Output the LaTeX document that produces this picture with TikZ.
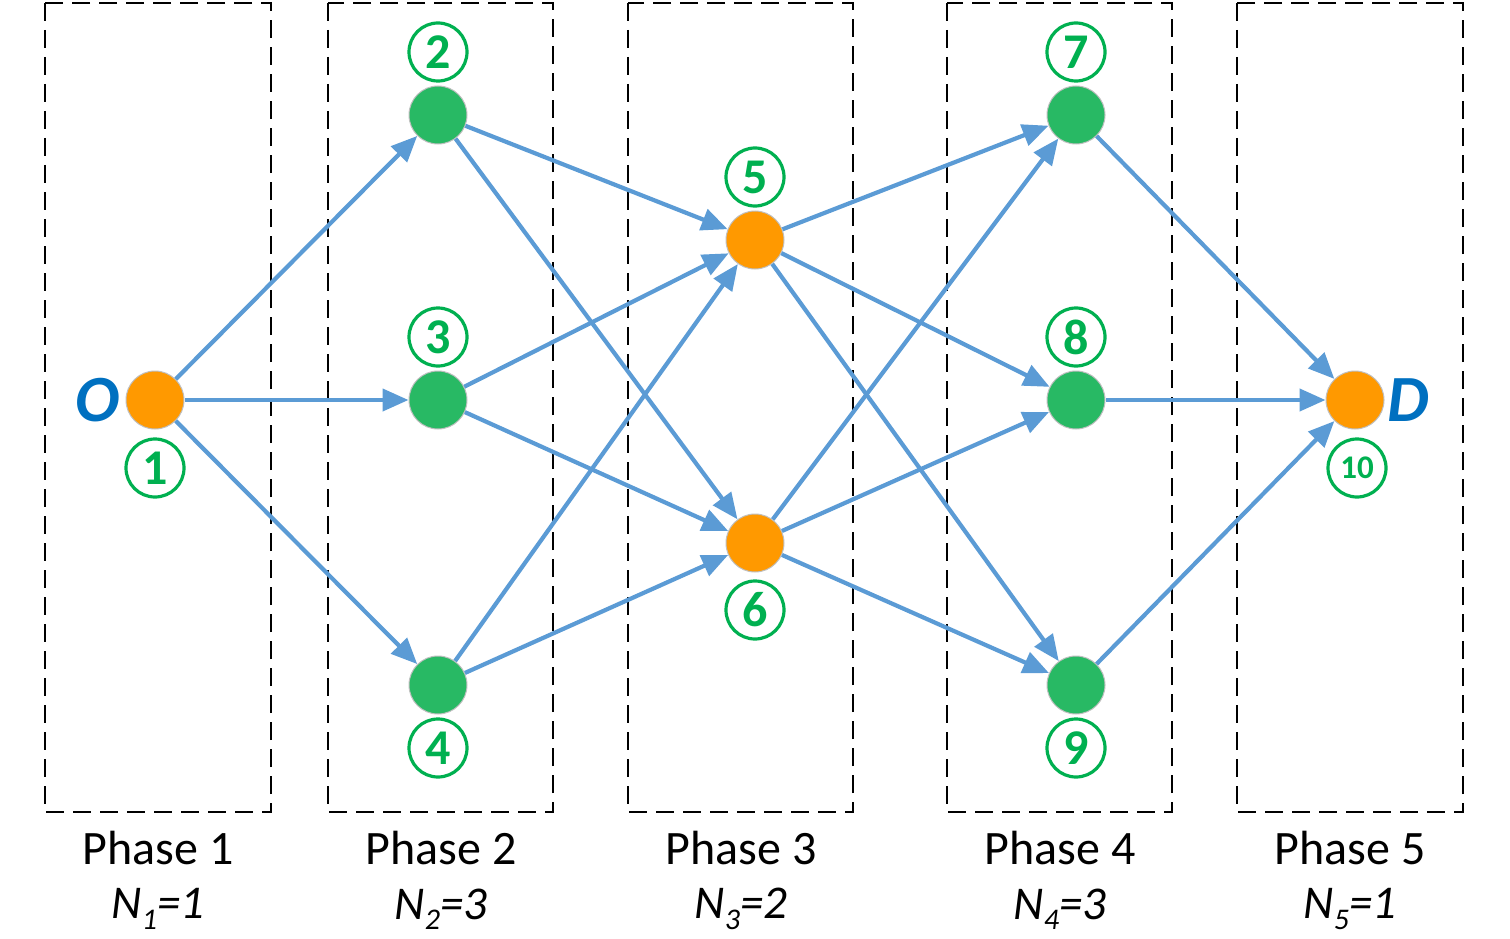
\documentclass[tikz,border=0pt]{standalone}
\usepackage{fontspec}
\setmainfont{Carlito}
\usetikzlibrary{arrows.meta}
\definecolor{edgeblue}{RGB}{91,155,213}
\definecolor{nodegreen}{RGB}{40,185,100}
\definecolor{nodeorange}{RGB}{255,153,0}
\definecolor{labgreen}{RGB}{0,176,80}
\definecolor{odblue}{RGB}{0,112,192}
\tikzset{
  gnode/.style={circle, fill=nodegreen, draw=black!25, line width=1pt, minimum size=58pt, inner sep=0pt},
  onode/.style={circle, fill=nodeorange, draw=black!25, line width=1pt, minimum size=58pt, inner sep=0pt},
  numlab/.style={circle, draw=labgreen, line width=3.2pt, minimum size=58pt, inner sep=0pt, text=labgreen, font=\fontsize{50}{56}\selectfont\bfseries},
  edge/.style={draw=edgeblue, line width=4.2pt, -{Triangle[length=26pt,width=22pt]}},
  phasebox/.style={draw=black, line width=2.8pt, dash pattern=on 18pt off 9pt},
  phaselab/.style={font=\fontsize{48}{56}\selectfont},
  nlab/.style={font=\fontsize{47}{54}\selectfont\itshape},
  odlab/.style={text=odblue, font=\fontsize{66}{72}\selectfont\bfseries\itshape}
}
\begin{document}
\begin{tikzpicture}[x=1pt,y=-1pt]
\useasboundingbox (0,0) rectangle (1510,939);
% phase boxes
\draw[phasebox] (45,3) rectangle (271,812);
\draw[phasebox] (328,3) rectangle (553,812);
\draw[phasebox] (628,3) rectangle (853,812);
\draw[phasebox] (947,3) rectangle (1172,812);
\draw[phasebox] (1237,3) rectangle (1463,812);
% phase labels
\node[phaselab] (p1) at (158,848) {Phase 1};
\node[phaselab] (p2) at (441,848) {Phase 2};
\node[phaselab] (p3) at (741,848) {Phase 3};
\node[phaselab] (p4) at (1060,848) {Phase 4};
\node[phaselab] (p5) at (1350,848) {Phase 5};
\node[nlab] (n1) at (158,909) {N\raisebox{-0.22em}{\fontsize{30}{34}\selectfont 1}=1};
\node[nlab] (n2) at (441,909) {N\raisebox{-0.22em}{\fontsize{30}{34}\selectfont 2}=3};
\node[nlab] (n3) at (741,909) {N\raisebox{-0.22em}{\fontsize{30}{34}\selectfont 3}=2};
\node[nlab] (n4) at (1060,909) {N\raisebox{-0.22em}{\fontsize{30}{34}\selectfont 4}=3};
\node[nlab] (n5) at (1350,909) {N\raisebox{-0.22em}{\fontsize{30}{34}\selectfont 5}=1};
% nodes
\node[onode] (v1) at (155,400) {};
\node[gnode] (v2) at (438,115) {};
\node[gnode] (v3) at (438,400) {};
\node[gnode] (v4) at (438,685) {};
\node[onode] (v5) at (755,240) {};
\node[onode] (v6) at (755,543) {};
\node[gnode] (v7) at (1076,115) {};
\node[gnode] (v8) at (1076,400) {};
\node[gnode] (v9) at (1076,685) {};
\node[onode] (v10) at (1355,400) {};
% number labels
\node[numlab] (l1) at (155,468) {1};
\node[numlab] (l2) at (438,52) {2};
\node[numlab] (l3) at (438,337) {3};
\node[numlab] (l4) at (438,748) {4};
\node[numlab] (l5) at (755,177) {5};
\node[numlab] (l6) at (755,610) {6};
\node[numlab] (l7) at (1076,52) {7};
\node[numlab] (l8) at (1076,337) {8};
\node[numlab] (l9) at (1076,748) {9};
\node[numlab, font=\fontsize{33}{36}\selectfont\bfseries] (l10) at (1357,468) {10};
% O and D
\node[odlab] (o) at (98,400) {O};
\node[odlab] (d) at (1408,400) {D};
% edges
\draw[edge] (v1) -- (v2);
\draw[edge] (v1) -- (v3);
\draw[edge] (v1) -- (v4);
\draw[edge] (v2) -- (v5);
\draw[edge] (v2) -- (v6);
\draw[edge] (v3) -- (v5);
\draw[edge] (v3) -- (v6);
\draw[edge] (v4) -- (v5);
\draw[edge] (v4) -- (v6);
\draw[edge] (v5) -- (v7);
\draw[edge] (v5) -- (v8);
\draw[edge] (v5) -- (v9);
\draw[edge] (v6) -- (v7);
\draw[edge] (v6) -- (v8);
\draw[edge] (v6) -- (v9);
\draw[edge] (v7) -- (v10);
\draw[edge] (v8) -- (v10);
\draw[edge] (v9) -- (v10);
\end{tikzpicture}
\end{document}
